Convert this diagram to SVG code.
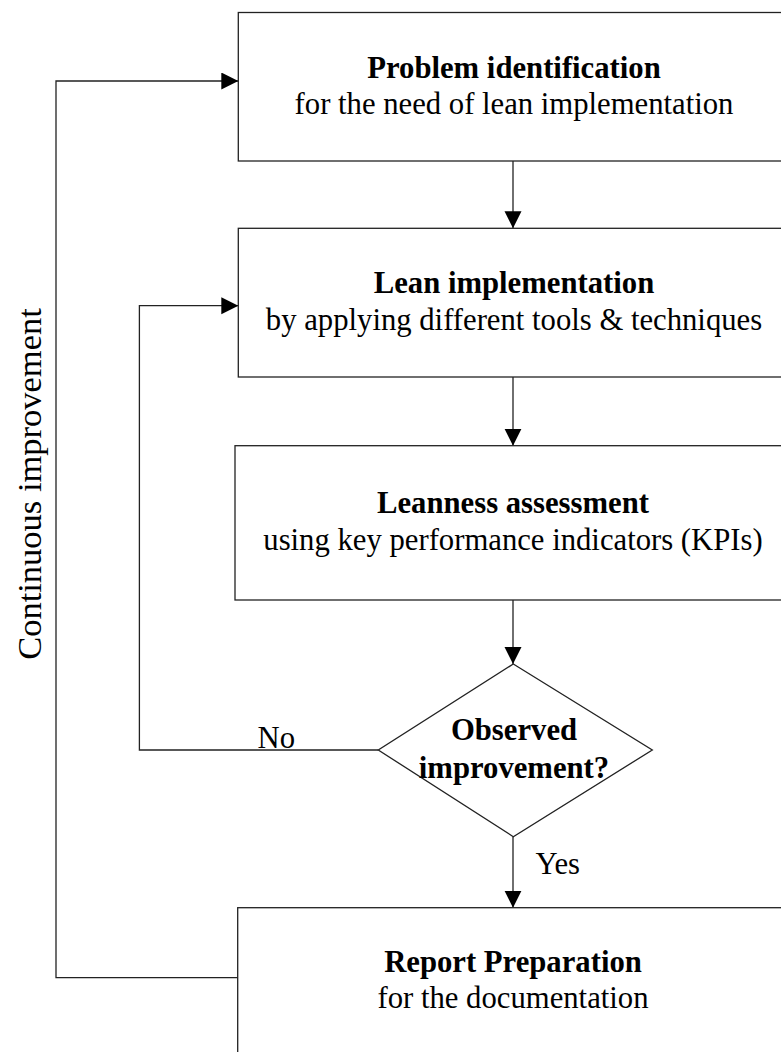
<svg xmlns="http://www.w3.org/2000/svg" width="781" height="1052" viewBox="0 0 781 1052">
  <style>
    .box { fill: #ffffff; stroke: #222222; stroke-width: 1.3; }
    .link { fill: none; stroke: #222222; stroke-width: 1.3; }
    text { font-family: "Liberation Serif", "Times New Roman", serif; fill: #000000; }
    .t { font-size: 30.7px; text-anchor: middle; }
    .b { font-weight: bold; }
    .lbl { font-size: 30.7px; }
    .side { font-size: 34.5px; text-anchor: middle; }
  </style>
  <defs>
    <marker id="arrow" markerUnits="userSpaceOnUse" markerWidth="18" markerHeight="18" refX="17" refY="8.5" orient="auto">
      <path d="M0,0 L17,8.5 L0,17 Z" fill="#000000"/>
    </marker>
  </defs>
  <rect width="781" height="1052" fill="#ffffff"/>

  <g id="connectors">
    <line class="link" x1="513" y1="161" x2="513" y2="228.3" marker-end="url(#arrow)"/>
    <line class="link" x1="513" y1="377" x2="513" y2="445.7" marker-end="url(#arrow)"/>
    <line class="link" x1="513" y1="600" x2="513" y2="664" marker-end="url(#arrow)"/>
    <line class="link" x1="513" y1="836.7" x2="513" y2="907.7" marker-end="url(#arrow)"/>
    <polyline class="link" points="378.3,750 139.4,750 139.4,305.7 238.3,305.7" marker-end="url(#arrow)"/>
    <polyline class="link" points="237.7,977.7 56,977.7 56,81 238.3,81" marker-end="url(#arrow)"/>
    <text class="lbl" x="257.5" y="748.3">No</text>
    <text class="lbl" x="535.4" y="874">Yes</text>
    <text class="side" transform="translate(41,484) rotate(-90)">Continuous improvement</text>
  </g>

  <g id="problem-identification">
    <rect class="box" x="238.3" y="12.5" width="600" height="148.5"/>
    <text class="t b" x="514" y="78">Problem identification</text>
    <text class="t" x="514" y="114">for the need of lean implementation</text>
  </g>

  <g id="lean-implementation">
    <rect class="box" x="238.3" y="228.3" width="600" height="148.7"/>
    <text class="t b" x="514" y="293.3">Lean implementation</text>
    <text class="t" x="514" y="330">by applying different tools &amp; techniques</text>
  </g>

  <g id="leanness-assessment">
    <rect class="box" x="235" y="445.7" width="600" height="154.3"/>
    <text class="t b" x="513" y="513.3">Leanness assessment</text>
    <text class="t" x="513" y="550">using key performance indicators (KPIs)</text>
  </g>

  <g id="observed-improvement">
    <polygon class="box" points="513.3,664 652.3,750 513.3,836.7 378.3,750"/>
    <text class="t b" x="514" y="740">Observed</text>
    <text class="t b" x="514" y="777.7">improvement?</text>
  </g>

  <g id="report-preparation">
    <rect class="box" x="237.7" y="907.7" width="600" height="200"/>
    <text class="t b" x="513" y="971.7">Report Preparation</text>
    <text class="t" x="513" y="1008">for the documentation</text>
  </g>
</svg>
